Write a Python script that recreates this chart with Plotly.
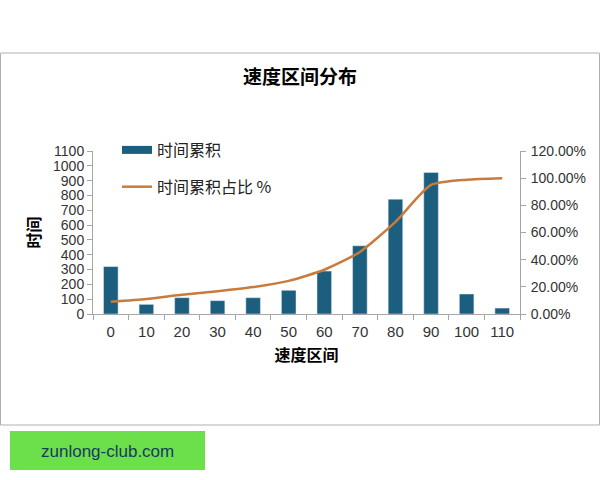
import plotly.graph_objects as go

# data
speed_bins = ["0", "10", "20", "30", "40", "50", "60", "70", "80", "90", "100", "110"]
time_total = [320, 65, 110, 90, 110, 160, 290, 460, 775, 955, 135, 40]
time_share = [0.09, 0.11, 0.141, 0.167, 0.198, 0.244, 0.326, 0.457, 0.678, 0.95, 0.989, 1.0]

BAR_COLOR = "#1b5e7d"
LINE_COLOR = "#c97b3e"
AXIS_COLOR = "#a6a6a6"
CJK = "Noto Sans CJK SC"
NUM = "Liberation Sans"

W, H = 600, 480
ML, MR, MT, MB = 93, 80, 151, 166


def px_x(x):
    return (x - ML) / (W - ML - MR)


def px_y(y):
    return (H - MB - y) / (H - MT - MB)


fig = go.Figure()
fig.add_trace(go.Bar(
    x=speed_bins, y=time_total, name="时间累积",
    marker_color=BAR_COLOR, showlegend=False,
))
# legend entry drawn as a thick stroke, like the reference
fig.add_trace(go.Scatter(
    x=[None], y=[None], mode="lines", name="时间累积",
    line=dict(color=BAR_COLOR, width=8), legendgroup="a",
))
fig.add_trace(go.Scatter(
    x=speed_bins, y=time_share, yaxis="y2", mode="lines", name="时间累积占比 %",
    line=dict(color=LINE_COLOR, width=2.5, shape="spline", smoothing=0.6),
    legendgroup="b",
))

fig.update_layout(
    width=W, height=H,
    margin=dict(l=ML, r=MR, t=MT, b=MB),
    paper_bgcolor="white", plot_bgcolor="white",
    bargap=0.59,
    title=dict(text="<b>速度区间分布</b>", x=0.5, xanchor="center",
               y=1 - 77 / H, yanchor="middle", yref="container",
               font=dict(family=CJK, size=19, color="black")),
    font=dict(family=NUM, size=14, color="#333333"),
    legend=dict(x=px_x(117), y=px_y(133), xanchor="left", yanchor="top",
                bgcolor="rgba(0,0,0,0)", tracegroupgap=13,
                traceorder="grouped",
                font=dict(family=CJK, size=16, color="#222222")),
    xaxis=dict(
        type="category", showline=True, linecolor=AXIS_COLOR, linewidth=1,
        ticks="outside", tickson="boundaries", ticklen=5, tickcolor=AXIS_COLOR,
        showgrid=False, ticklabelstandoff=4,
        tickfont=dict(family=NUM, size=15, color="#333333"),
        title=dict(text="<b>速度区间</b>", standoff=10,
                   font=dict(family=CJK, size=16, color="black")),
    ),
    yaxis=dict(
        range=[0, 1100], dtick=100, showline=True, linecolor=AXIS_COLOR,
        ticks="outside", ticklen=5, tickcolor=AXIS_COLOR, showgrid=False,
        zeroline=False, tickfont=dict(family=NUM, size=14, color="#333333"),
        title=dict(text="<b>时间</b>", standoff=8,
                   font=dict(family=CJK, size=16, color="black")),
    ),
    yaxis2=dict(
        overlaying="y", side="right", range=[0, 1.2], dtick=0.2,
        tickformat=".2%", showline=True, linecolor=AXIS_COLOR,
        ticks="outside", ticklen=5, tickcolor=AXIS_COLOR, showgrid=False,
        zeroline=False, ticklabelstandoff=2,
        tickfont=dict(family=NUM, size=14, color="#333333"),
    ),
    shapes=[
        dict(type="rect", xref="paper", yref="paper",
             x0=px_x(0.5), x1=px_x(599.5), y0=px_y(425), y1=px_y(53),
             line=dict(color="#b0b0b0", width=1), layer="below"),
        dict(type="rect", xref="paper", yref="paper",
             x0=px_x(10), x1=px_x(205), y0=px_y(470), y1=px_y(431),
             line=dict(width=0), fillcolor="#6ce04b", layer="below"),
    ],
    annotations=[
        dict(text="zunlong-club.com", xref="paper", yref="paper",
             x=px_x(107), y=px_y(451), xanchor="center", yanchor="middle",
             showarrow=False,
             font=dict(family=NUM, size=17, color="#1a3b5c")),
    ],
)

fig.write_html("out.html", config={"displayModeBar": False},
               post_script="document.body.style.margin='0';")
